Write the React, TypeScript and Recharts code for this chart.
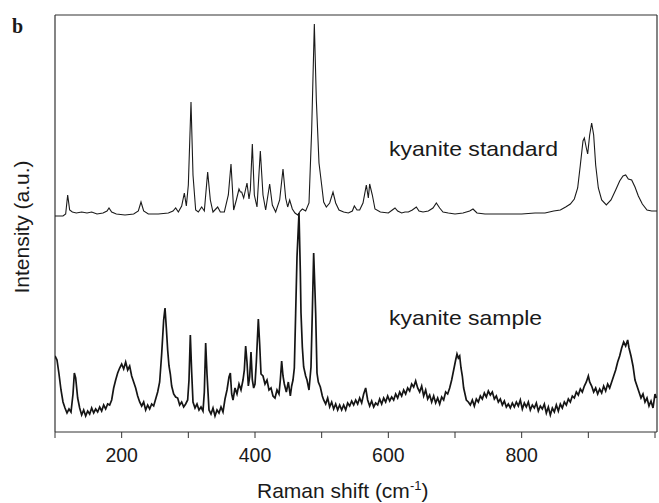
import { LineChart, Line, XAxis, YAxis, Customized, ReferenceLine } from "recharts";

// [Raman shift (cm-1), intensity (a.u.)]
const standardSpectrum: [number, number][] = [
	[100, 216], [112, 216], [116, 218], [119, 237], [122, 222], [126, 220], [132, 219], [140, 220],
	[148, 219], [155, 220], [163, 218], [172, 219], [178, 221], [181, 224], [185, 220], [192, 218],
	[205, 217], [218, 218], [225, 221], [229, 230], [233, 221], [240, 218], [255, 218], [270, 219],
	[277, 221], [281, 224], [285, 220], [290, 226], [294, 239], [297, 226], [300, 247], [304, 330],
	[307, 257], [311, 222], [315, 220], [320, 225], [324, 221], [329, 260], [333, 232], [337, 220],
	[344, 225], [348, 220], [354, 220], [360, 237], [364, 268], [368, 222], [372, 232], [376, 243],
	[378, 240], [380, 240], [383, 234], [388, 249], [391, 233], [393, 242], [396, 288], [399, 237],
	[403, 225], [408, 281], [412, 237], [416, 222], [422, 248], [426, 227], [431, 220], [437, 232],
	[442, 263], [446, 234], [449, 225], [452, 232], [456, 223], [460, 219], [464, 217], [468, 221],
	[471, 223], [476, 221], [481, 229], [485, 302], [489, 408], [492, 332], [496, 269], [500, 247],
	[503, 230], [507, 225], [512, 229], [517, 240], [521, 229], [526, 222], [533, 220], [540, 219],
	[546, 221], [549, 226], [553, 222], [557, 222], [562, 229], [567, 247], [570, 234], [572, 248],
	[576, 237], [580, 223], [588, 220], [600, 219], [606, 222], [610, 224], [614, 221], [620, 219],
	[625, 220], [630, 220], [636, 222], [642, 225], [646, 221], [652, 220], [660, 221], [667, 224],
	[672, 229], [677, 224], [682, 220], [690, 219], [700, 218], [712, 219], [722, 221], [727, 223],
	[733, 219], [745, 218], [760, 218], [780, 218], [800, 218], [820, 219], [835, 219], [848, 221],
	[858, 222], [866, 225], [873, 228], [879, 233], [884, 244], [888, 267], [892, 291], [894, 294],
	[897, 284], [899, 278], [902, 297], [905, 309], [908, 297], [911, 267], [915, 244], [920, 232],
	[927, 227], [934, 232], [941, 242], [947, 251], [952, 256], [956, 257], [960, 253], [965, 252],
	[970, 245], [975, 236], [981, 228], [988, 222], [995, 221], [1003, 221],
];

const sampleSpectrum: [number, number][] = [
	[100, 76], [103, 72], [106, 58], [109, 42], [112, 30], [115, 24], [118, 19], [121, 23],
	[124, 20], [127, 38], [129, 59], [131, 54], [134, 34], [137, 24], [140, 17], [143, 22],
	[146, 16], [149, 21], [152, 18], [155, 24], [158, 19], [161, 23], [164, 20], [167, 25],
	[170, 21], [173, 27], [176, 23], [179, 28], [182, 27], [185, 32], [188, 44], [191, 52],
	[194, 59], [197, 64], [200, 68], [203, 63], [206, 70], [209, 62], [212, 66], [215, 56],
	[218, 50], [221, 44], [224, 36], [227, 30], [230, 26], [233, 30], [236, 22], [239, 27],
	[242, 23], [245, 28], [248, 26], [251, 33], [254, 40], [257, 50], [260, 78], [263, 112],
	[265, 124], [267, 104], [269, 82], [271, 66], [273, 58], [275, 46], [278, 38], [281, 35],
	[284, 34], [287, 27], [290, 30], [293, 25], [296, 28], [299, 32], [301, 52], [303, 97],
	[305, 60], [307, 30], [310, 24], [313, 28], [316, 22], [319, 25], [322, 21], [324, 40],
	[326, 89], [328, 58], [331, 22], [334, 18], [337, 24], [340, 16], [343, 22], [346, 19],
	[349, 25], [352, 20], [355, 33], [358, 42], [361, 55], [363, 59], [365, 38], [367, 32],
	[370, 44], [373, 38], [376, 48], [379, 42], [382, 52], [384, 62], [386, 86], [388, 70],
	[390, 46], [392, 55], [394, 80], [396, 52], [398, 44], [400, 48], [402, 70], [405, 113],
	[407, 88], [409, 58], [412, 56], [415, 48], [418, 52], [421, 42], [424, 44], [427, 36],
	[430, 34], [433, 42], [436, 38], [438, 52], [440, 71], [442, 56], [444, 48], [447, 40],
	[450, 50], [453, 36], [455, 46], [457, 52], [459, 64], [461, 119], [463, 175], [466, 219],
	[468, 160], [469, 119], [471, 85], [473, 65], [476, 56], [478, 52], [481, 42], [484, 65],
	[486, 120], [488, 179], [490, 140], [491, 119], [493, 59], [495, 50], [498, 45], [501, 36],
	[503, 32], [506, 28], [509, 34], [512, 25], [515, 30], [518, 23], [521, 28], [524, 22],
	[527, 27], [530, 22], [533, 27], [536, 22], [539, 29], [542, 26], [545, 31], [548, 27],
	[551, 32], [554, 28], [557, 34], [560, 29], [563, 38], [566, 44], [569, 32], [572, 26],
	[575, 31], [578, 25], [581, 29], [584, 27], [587, 33], [590, 28], [593, 34], [596, 30],
	[599, 36], [602, 31], [605, 35], [608, 32], [611, 38], [614, 34], [617, 40], [620, 36],
	[623, 42], [626, 38], [629, 44], [632, 41], [635, 48], [638, 45], [641, 51], [644, 44],
	[647, 40], [650, 46], [653, 36], [656, 42], [659, 33], [662, 37], [665, 30], [668, 36],
	[671, 29], [674, 34], [677, 28], [680, 35], [683, 32], [686, 40], [689, 38], [692, 44],
	[695, 52], [698, 62], [701, 72], [703, 78], [705, 74], [707, 76], [709, 64], [711, 56],
	[713, 44], [715, 38], [717, 32], [720, 30], [723, 27], [726, 32], [729, 26], [732, 33],
	[735, 30], [738, 36], [741, 33], [744, 39], [747, 35], [750, 41], [753, 37], [756, 40],
	[759, 33], [762, 36], [765, 30], [768, 33], [771, 27], [774, 31], [777, 25], [780, 28],
	[783, 24], [786, 29], [789, 25], [792, 30], [795, 26], [798, 32], [801, 23], [804, 29],
	[807, 25], [810, 30], [813, 22], [816, 27], [819, 24], [822, 29], [825, 21], [828, 26],
	[831, 23], [834, 28], [837, 19], [840, 25], [843, 17], [846, 24], [849, 20], [852, 27],
	[855, 21], [858, 28], [861, 24], [864, 30], [867, 27], [870, 33], [873, 30], [876, 36],
	[879, 34], [882, 40], [885, 37], [888, 43], [891, 40], [894, 46], [897, 50], [900, 56],
	[902, 50], [905, 46], [908, 40], [911, 44], [914, 38], [917, 43], [920, 39], [923, 46],
	[926, 41], [929, 48], [932, 44], [935, 50], [938, 56], [941, 62], [944, 70], [947, 76],
	[950, 84], [953, 90], [956, 86], [959, 92], [961, 84], [964, 76], [967, 66], [970, 52],
	[973, 46], [976, 40], [979, 34], [982, 38], [985, 30], [988, 34], [991, 26], [994, 31],
	[997, 24], [1000, 38], [1002, 34],
];

const xTicks = [100, 200, 300, 400, 500, 600, 700, 800, 900, 1000];
const labelledTicks = [200, 400, 600, 800];
const xDomain: [number, number] = [100, 1003];
const yDomain: [number, number] = [0, 417];

const standardData = standardSpectrum.map(([x, y]) => ({ x, y }));
const sampleData = sampleSpectrum.map(([x, y]) => ({ x, y }));

const FONT = "'Liberation Sans', Arial, sans-serif";
const FRAME = "#333";
const INK = "#1a1a1a";

const ShiftTick = (props: any) => {
	const { x, y, payload } = props;
	if (!labelledTicks.includes(payload.value)) return <g />;
	return (
		<text x={x} y={y + 22} textAnchor="middle" fontSize={19.5} fontFamily={FONT} fill={INK}>
			{payload.value}
		</text>
	);
};

const Annotations = () => (
	<g fontFamily={FONT} fill={INK}>
		<text x={12} y={33} fontFamily="'Liberation Serif', 'Times New Roman', serif" fontWeight="bold" fontSize={20}>
			b
		</text>
		<text x={29} y={227} transform="rotate(-90 29 227)" textAnchor="middle" fontSize={21}>
			Intensity (a.u.)
		</text>
		<text x={389} y={156} fontSize={21} textLength={169} lengthAdjust="spacingAndGlyphs">
			kyanite standard
		</text>
		<text x={389} y={325} fontSize={21} textLength={153} lengthAdjust="spacingAndGlyphs">
			kyanite sample
		</text>
		<text x={257} y={498} fontSize={21}>
			Raman shift (cm
			<tspan fontSize={13} dy={-8}>-1</tspan>
			<tspan dy={8}>)</tspan>
		</text>
	</g>
);

export default function App() {
	return (
		<div style={{ position: "absolute", left: 0, top: 0, background: "#fff" }}>
			<LineChart width={659} height={503} margin={{ top: 15, right: 2, bottom: 0, left: 55 }}>
				<XAxis
					dataKey="x"
					type="number"
					domain={xDomain}
					ticks={xTicks}
					allowDataOverflow
					height={71}
					tickSize={6}
					tick={<ShiftTick />}
					stroke={FRAME}
					interval={0}
				/>
				<YAxis type="number" domain={yDomain} allowDataOverflow hide />
				<ReferenceLine x={xDomain[0]} stroke={FRAME} strokeWidth={1.2} />
				<ReferenceLine x={xDomain[1]} stroke={FRAME} strokeWidth={1.2} />
				<ReferenceLine y={yDomain[1]} stroke={FRAME} strokeWidth={1.2} />
				<Line
					data={standardData}
					dataKey="y"
					type="linear"
					stroke={INK}
					strokeWidth={1.1}
					dot={false}
					isAnimationActive={false}
				/>
				<Line
					data={sampleData}
					dataKey="y"
					type="linear"
					stroke="#151515"
					strokeWidth={1.7}
					dot={false}
					isAnimationActive={false}
				/>
				<Customized component={Annotations} />
			</LineChart>
		</div>
	);
}
